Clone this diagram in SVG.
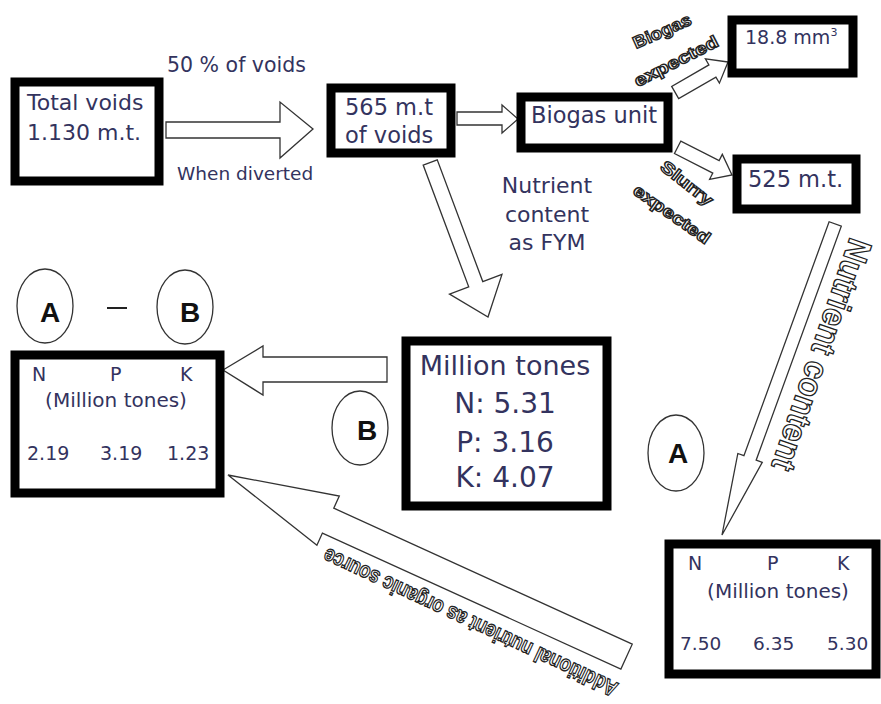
<svg xmlns="http://www.w3.org/2000/svg" width="881" height="704" viewBox="0 0 881 704">
<style>
.bx{fill:#fff;stroke:#000;stroke-width:9}
.t{font-family:"DejaVu Sans",Verdana,sans-serif;fill:#33335e}
.ar{fill:#fff;stroke:#333;stroke-width:1.3;stroke-linejoin:miter}
.el{fill:#fff;stroke:#333;stroke-width:1.3}
.lt{font-family:"Liberation Sans",Arial,sans-serif;font-weight:bold;fill:#111;text-anchor:middle}
.ol{font-family:"Liberation Sans",Arial,sans-serif;font-weight:bold;fill:#fff;stroke:#222;stroke-width:1.3;text-anchor:middle}
</style>
<rect width="881" height="704" fill="#fff"/>

<g id="connectors">
  <polygon class="ar" points="313,129 280,102 280,122 166,122 166,138 280,138 280,158"/>
  <polygon class="ar" points="518,119 502,105 502,112 457,112 457,125 502,125 502,133"/>
  <polygon class="ar" points="223,370 263,346 263,357 387,357 387,382 263,382 263,395"/>
  <polygon class="ar" transform="translate(488,317) rotate(69.5)" points="0,0 -35,-28 -35,-7.5 -165,-7.5 -165,7.5 -35,7.5 -35,28"/>
  <polygon class="ar" transform="translate(728,62) rotate(-30)" points="0,0 -18,-14 -18,-7 -61,-7 -61,7 -18,7 -18,14"/>
  <polygon class="ar" transform="translate(732,175) rotate(27)" points="0,0 -18,-14 -18,-7 -61,-7 -61,7 -18,7 -18,14"/>
  <polygon class="ar" transform="translate(722,535) rotate(110)" points="0,0 -82,-13 -82,-6.5 -331,-6.5 -331,6.5 -82,6.5 -82,13"/>
  <polygon class="ar" transform="translate(228,475) rotate(204.5)" points="0,0 -110,-27 -110,-13.7 -438,-13.7 -438,13.7 -110,13.7 -110,27"/>
  <text class="t" x="167" y="72" font-size="20.5">50 % of voids</text>
  <text class="t" x="177" y="180" font-size="18.5">When diverted</text>
  <text class="t" text-anchor="middle" font-size="22"><tspan x="547" y="193">Nutrient</tspan><tspan x="547" y="222">content</tspan><tspan x="547" y="250">as FYM</tspan></text>
  <text class="ol" transform="translate(662,31) rotate(-24)" y="6" font-size="17" textLength="62" lengthAdjust="spacingAndGlyphs">Biogas</text>
  <text class="ol" transform="translate(676,61) rotate(-27)" y="6" font-size="17" textLength="92" lengthAdjust="spacingAndGlyphs">expected</text>
  <text class="ol" transform="translate(687,183) rotate(38)" y="6" font-size="17" textLength="62" lengthAdjust="spacingAndGlyphs">Slurry</text>
  <text class="ol" transform="translate(672,214) rotate(35)" y="6" font-size="17" textLength="90" lengthAdjust="spacingAndGlyphs">expected</text>
  <text class="ol" transform="translate(822,355) rotate(109)" y="12" font-size="34" stroke-width="1.6" textLength="243" lengthAdjust="spacingAndGlyphs">Nutrient content</text>
  <text class="ol" transform="translate(470,623) rotate(205)" y="8" font-size="22" textLength="322" lengthAdjust="spacingAndGlyphs">Additional nutrient as organic source</text>
</g>

<g id="total-voids">
  <rect class="bx" x="15" y="82" width="144" height="99"/>
  <text class="t" x="27" y="110" font-size="22">Total voids</text>
  <text class="t" x="27" y="140" font-size="22">1.130 m.t.</text>
</g>

<g id="voids-565">
  <rect class="bx" x="331" y="88" width="120" height="65" stroke-width="8"/>
  <text class="t" x="345" y="115" font-size="22.5">565 m.t</text>
  <text class="t" x="345" y="143" font-size="22.5">of voids</text>
</g>

<g id="biogas-unit">
  <rect class="bx" x="521" y="97" width="147" height="51" stroke-width="8"/>
  <text class="t" x="531" y="123" font-size="22.5">Biogas unit</text>
</g>

<g id="biogas-out">
  <rect class="bx" x="732" y="20" width="121" height="53" stroke-width="8"/>
  <text class="t" x="745" y="44" font-size="19">18.8 mm<tspan font-size="11" dy="-8">3</tspan></text>
</g>

<g id="slurry-out">
  <rect class="bx" x="737" y="159" width="119" height="50" stroke-width="8"/>
  <text class="t" x="748" y="187" font-size="22.5">525 m.t.</text>
</g>

<g id="npk-slurry">
  <rect class="bx" x="669" y="544" width="207" height="130" stroke-width="8"/>
  <text class="t" font-size="19"><tspan x="688" y="570">N</tspan><tspan x="767" y="570">P</tspan><tspan x="837" y="570">K</tspan></text>
  <text class="t" x="778" y="598" font-size="20" text-anchor="middle">(Million tones)</text>
  <text class="t" font-size="18.5"><tspan x="680" y="650">7.50</tspan><tspan x="753" y="650">6.35</tspan><tspan x="827" y="650">5.30</tspan></text>
</g>

<g id="label-a">
  <ellipse class="el" cx="676" cy="453" rx="28" ry="38"/>
  <text class="lt" x="678" y="463" font-size="28">A</text>
</g>

<g id="npk-fym">
  <rect class="bx" x="406" y="341" width="201" height="165"/>
  <text class="t" x="505" y="375" font-size="27" text-anchor="middle">Million tones</text>
  <text class="t" x="505" y="413" font-size="28" text-anchor="middle">N: 5.31</text>
  <text class="t" x="505" y="452" font-size="28" text-anchor="middle">P: 3.16</text>
  <text class="t" x="505" y="487" font-size="28" text-anchor="middle">K: 4.07</text>
</g>

<g id="label-b">
  <ellipse class="el" cx="360" cy="428" rx="28" ry="37"/>
  <text class="lt" x="367" y="440" font-size="28">B</text>
</g>

<g id="formula">
  <ellipse class="el" cx="45" cy="306" rx="28" ry="37"/>
  <text class="lt" x="50" y="322" font-size="28">A</text>
  <line x1="107" y1="308" x2="127" y2="308" stroke="#222" stroke-width="2"/>
  <ellipse class="el" cx="185" cy="307" rx="28" ry="37"/>
  <text class="lt" x="190" y="322" font-size="28">B</text>
</g>

<g id="npk-net">
  <rect class="bx" x="15" y="355" width="205" height="138"/>
  <text class="t" font-size="19"><tspan x="32" y="381">N</tspan><tspan x="110" y="381">P</tspan><tspan x="180" y="381">K</tspan></text>
  <text class="t" x="116" y="407" font-size="20" text-anchor="middle">(Million tones)</text>
  <text class="t" font-size="19"><tspan x="27" y="460">2.19</tspan><tspan x="100" y="460">3.19</tspan><tspan x="167" y="460">1.23</tspan></text>
</g>
</svg>
